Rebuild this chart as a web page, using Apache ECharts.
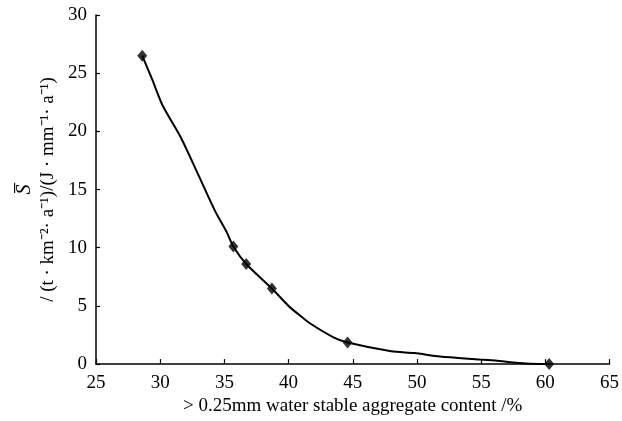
<!DOCTYPE html>
<html>
<head>
<meta charset="utf-8">
<script src="https://cdn.jsdelivr.net/npm/echarts@6/dist/echarts.min.js"></script>
<style>
  html, body { margin: 0; padding: 0; background: #fff; }
  #main { width: 622px; height: 421px; }
</style>
</head>
<body>
<div id="main"></div>
<script>
// measured points (diamond markers)
const aggX = [28.6, 35.7, 36.7, 38.7, 44.6, 60.3];
const sVal = [26.5, 10.1, 8.6, 6.5, 1.85, 0];

// fitted curve drawn through the points
const curveX = [28.6, 29.4, 30.2, 31.6, 33.0, 34.3, 35.2, 35.7, 36.7, 38.7, 40.0, 40.75, 41.6, 43.5, 44.6, 48.0, 49.8, 51.8, 54.9, 56.1, 58.5, 60.3];
const curveY = [26.5, 24.4, 22.2, 19.5, 16.2, 13.1, 11.3, 10.1, 8.6, 6.5, 5.0, 4.3, 3.55, 2.3, 1.85, 1.1, 0.95, 0.65, 0.4, 0.3, 0.05, 0];

const xTicks = [25, 65, 5];   // min, max, step
const yTicks = [0, 30, 5];

const font = 'Liberation Serif';

const chart = echarts.init(document.getElementById('main'), null, { renderer: 'canvas' });

chart.setOption({
  animation: false,
  backgroundColor: '#fff',
  grid: { left: 96, right: 9, top: 15, bottom: 53 },
  xAxis: {
    type: 'value',
    min: xTicks[0], max: xTicks[1], interval: xTicks[2],
    name: '> 0.25mm water stable aggregate content /%',
    nameLocation: 'middle',
    nameGap: 30,
    nameTextStyle: { fontFamily: font, fontSize: 19, color: '#000' },
    axisLine: { lineStyle: { color: '#000', width: 1.5 } },
    axisTick: { inside: true, length: 5, lineStyle: { color: '#000', width: 1.2 } },
    axisLabel: { fontFamily: font, fontSize: 19, color: '#000', margin: 9 },
    splitLine: { show: false }
  },
  yAxis: {
    type: 'value',
    min: yTicks[0], max: yTicks[1], interval: yTicks[2],
    name: '{s|S\u0305}\n{u|/ (t · km\u207B\u00B2· a\u207B\u00B9)/(J · mm\u207B\u00B9· a\u207B\u00B9)}',
    nameLocation: 'middle',
    nameRotate: 90,
    nameGap: 31,
    nameTextStyle: {
      fontFamily: font, fontSize: 19, color: '#000',
      rich: {
        s: { fontFamily: font, fontSize: 20, fontStyle: 'italic', color: '#000', lineHeight: 23 },
        u: { fontFamily: font, fontSize: 19, color: '#000', lineHeight: 23 }
      }
    },
    axisLine: { show: true, lineStyle: { color: '#000', width: 1.5 } },
    axisTick: { show: true, inside: true, length: 4, lineStyle: { color: '#000', width: 1.2 } },
    axisLabel: { fontFamily: font, fontSize: 19, color: '#000', margin: 9 },
    splitLine: { show: false }
  },
  series: [
    {
      type: 'line',
      data: curveX.map((x, i) => [x, curveY[i]]),
      smooth: 0.25,
      showSymbol: false,
      lineStyle: { color: '#000', width: 2 },
      z: 2
    },
    {
      type: 'scatter',
      data: aggX.map((x, i) => [x, sVal[i]]),
      symbol: 'diamond',
      symbolSize: [10, 12],
      itemStyle: { color: '#000' },
      z: 3
    }
  ]
});
</script>
</body>
</html>
